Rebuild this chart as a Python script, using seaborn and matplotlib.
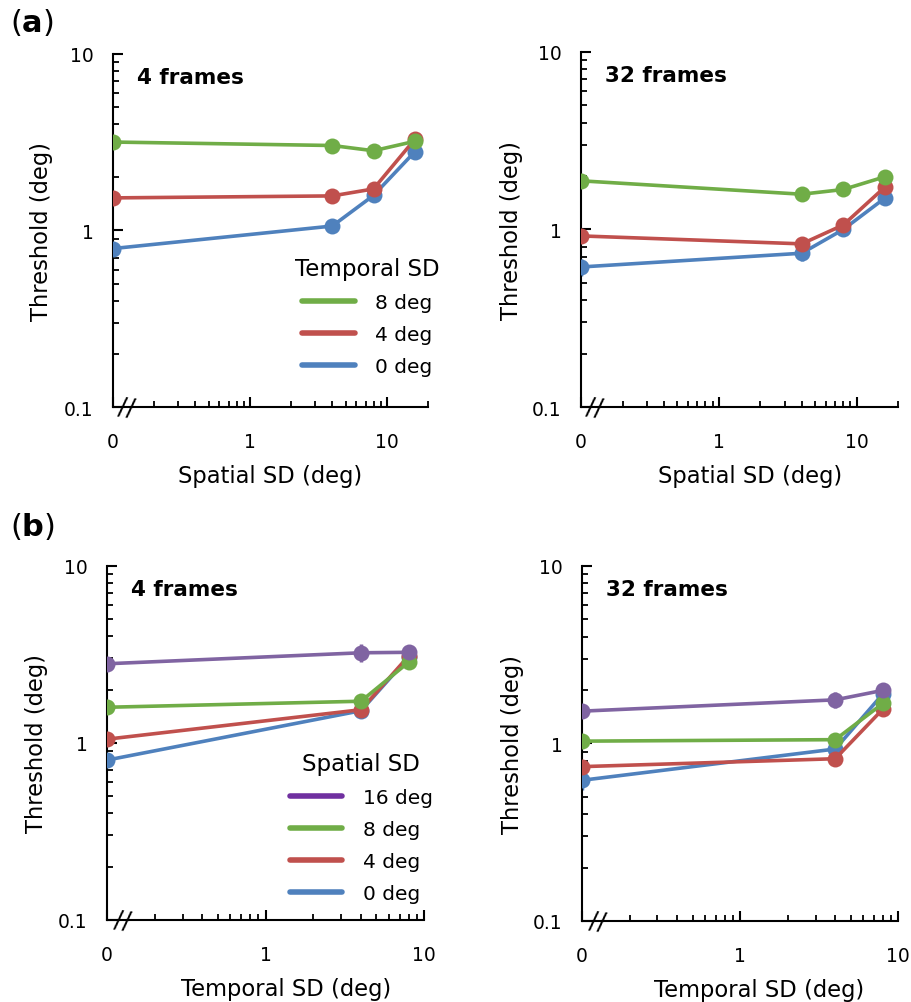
import numpy as np
import pandas as pd
import seaborn as sns
import matplotlib
matplotlib.use('Agg')
import matplotlib.pyplot as plt
from matplotlib.lines import Line2D

# ---- data (threshold in deg) ----
spatial_sd = [0, 4, 8, 16]
temporal_sd = [0, 4, 8]

# (a) threshold vs spatial SD, one line per temporal SD
a4_t8 = [3.17, 3.03, 2.83, 3.20]
a4_t4 = [1.53, 1.57, 1.72, 3.28]
a4_t0 = [0.79, 1.06, 1.58, 2.79]
a4_t8_err = [0.10, 0.10, 0.10, 0.15]
a4_t4_err = [0.05, 0.05, 0.08, 0.27]
a4_t0_err = [0.03, 0.04, 0.08, 0.15]

a32_t8 = [1.88, 1.58, 1.68, 1.98]
a32_t4 = [0.92, 0.83, 1.06, 1.73]
a32_t0 = [0.615, 0.735, 1.00, 1.50]
a32_t8_err = [0.08, 0.08, 0.08, 0.08]
a32_t4_err = [0.04, 0.05, 0.05, 0.08]
a32_t0_err = [0.065, 0.07, 0.05, 0.08]

# (b) threshold vs temporal SD, one line per spatial SD
b4_s16 = [2.80, 3.23, 3.25]
b4_s8 = [1.59, 1.72, 2.86]
b4_s4 = [1.05, 1.54, 3.10]
b4_s0 = [0.80, 1.52, 3.05]
b4_s16_err = [0.08, 0.38, 0.10]
b4_s8_err = [0.05, 0.08, 0.10]
b4_s4_err = [0.04, 0.08, 0.10]
b4_s0_err = [0.03, 0.08, 0.10]

b32_s16 = [1.52, 1.76, 1.99]
b32_s8 = [1.03, 1.05, 1.68]
b32_s4 = [0.74, 0.82, 1.56]
b32_s0 = [0.62, 0.93, 1.90]
b32_s16_err = [0.05, 0.18, 0.08]
b32_s8_err = [0.03, 0.05, 0.08]
b32_s4_err = [0.03, 0.04, 0.14]
b32_s0_err = [0.07, 0.05, 0.08]

level_names = ['0 deg', '4 deg', '8 deg', '16 deg']
line_colors = {'0 deg': '#4F81BD', '4 deg': '#C0504D', '8 deg': '#70AD47', '16 deg': '#8064A2'}
legend_colors = {'0 deg': '#4F81BD', '4 deg': '#C0504D', '8 deg': '#70AD47', '16 deg': '#7030A0'}

sns.set_style('ticks')
plt.rcParams['font.family'] = ['DejaVu Sans']
plt.rcParams['axes.linewidth'] = 1.5
plt.rcParams['axes.edgecolor'] = 'black'
plt.rcParams['text.color'] = 'black'
plt.rcParams['axes.labelcolor'] = 'black'
plt.rcParams['xtick.color'] = 'black'
plt.rcParams['ytick.color'] = 'black'
plt.rcParams['mathtext.fontset'] = 'dejavusans'

fig = plt.figure(figsize=(9.11, 10.03), dpi=100)
ax_tl = fig.add_axes([0.124, 0.5932, 0.3458, 0.352])
ax_tr = fig.add_axes([0.6378, 0.5932, 0.348, 0.354])
ax_bl = fig.add_axes([0.1175, 0.0818, 0.348, 0.353])
ax_br = fig.add_axes([0.6389, 0.0808, 0.347, 0.354])


def build_frame(xs, series):
  rows = {'x': [], 'y': [], 'err': [], 'name': []}
  for name, (ys, es) in series.items():
    for x, y, e in zip(xs, ys, es):
      rows['x'].append(0.1 if x == 0 else x)   # zero sits on the axis break
      rows['y'].append(y)
      rows['err'].append(e)
      rows['name'].append(name)
  return pd.DataFrame(rows)


def draw_panel(ax, xs, series, xmax, title, xlabel, xlab_x, ylab_x):
  df = build_frame(xs, series)
  order = [n for n in level_names if n in series]
  for name in order:
    sub = df[df['name'] == name]
    ax.errorbar(sub['x'], sub['y'], yerr=sub['err'], fmt='none',
                ecolor=line_colors[name], elinewidth=2.5, capsize=0, zorder=2)
  sns.lineplot(data=df, x='x', y='y', hue='name', hue_order=order,
               palette=line_colors, marker='o', markersize=11.5,
               markeredgewidth=0, linewidth=2.6, sort=False,
               legend=False, ax=ax, zorder=3)
  ax.set_xscale('log')
  ax.set_yscale('log')
  ax.set_xlim(0.1, xmax)
  ax.set_ylim(0.1, 10)
  ax.set_xticks([0.1, 1, 10])
  ax.set_xticklabels(['0', '1', '10'])
  minor = [0.2, 0.3, 0.4, 0.5, 0.6, 0.7, 0.8, 0.9, 2, 3, 4, 5, 6, 7, 8, 9]
  xminor = minor + [20] if xmax > 10 else minor
  ax.set_xticks(xminor, minor=True)
  ax.set_xticklabels([], minor=True)
  ax.set_yticks([0.1, 1, 10])
  ax.set_yticklabels(['0.1', '1', '10'])
  ax.set_yticks(minor, minor=True)
  ax.set_yticklabels([], minor=True)
  ax.tick_params(axis='both', which='both', bottom=True, left=True,
                 top=False, right=False)
  ax.tick_params(axis='both', which='major', direction='in', length=7,
                 width=1.5, labelsize=13.5, colors='black')
  ax.tick_params(axis='both', which='minor', direction='in', length=4.5,
                 width=1.3, colors='black')
  ax.tick_params(axis='x', which='major', pad=18)
  ax.tick_params(axis='y', which='major', pad=14)
  for side in ['top', 'right']:
    ax.spines[side].set_visible(False)
  ax.set_xlabel(xlabel, fontsize=16.3)
  ax.set_ylabel('Threshold (deg)', fontsize=16.3)
  ax.xaxis.set_label_coords(xlab_x, -0.16)
  ax.yaxis.set_label_coords(ylab_x, 0.5)
  ax.text(0.075, 0.935, title, transform=ax.transAxes, fontsize=15.5,
          fontweight='bold', va='center', ha='left')
  # axis break mark
  ax.text(0.125, 0.0, '//', transform=ax.get_xaxis_transform(),
          fontsize=18, ha='center', va='center', clip_on=False, zorder=5,
          rotation=-8)


def add_legend(ax, title, names, anchor):
  handles = [Line2D([0], [0], color=legend_colors[n], lw=4) for n in names]
  leg = ax.legend(handles, names, title=title, loc='upper left',
                  bbox_to_anchor=anchor, frameon=False, fontsize=14.5,
                  title_fontsize=16.5, handlelength=2.6, handletextpad=1.0,
                  labelspacing=0.64, alignment='center')
  return leg


draw_panel(ax_tl, spatial_sd,
           {'0 deg': (a4_t0, a4_t0_err), '4 deg': (a4_t4, a4_t4_err), '8 deg': (a4_t8, a4_t8_err)},
           20, '4 frames', 'Spatial SD (deg)', 0.498, -0.19)
draw_panel(ax_tr, spatial_sd,
           {'0 deg': (a32_t0, a32_t0_err), '4 deg': (a32_t4, a32_t4_err), '8 deg': (a32_t8, a32_t8_err)},
           20, '32 frames', 'Spatial SD (deg)', 0.533, -0.183)
draw_panel(ax_bl, temporal_sd,
           {'0 deg': (b4_s0, b4_s0_err), '4 deg': (b4_s4, b4_s4_err),
            '8 deg': (b4_s8, b4_s8_err), '16 deg': (b4_s16, b4_s16_err)},
           10, '4 frames', 'Temporal SD (deg)', 0.565, -0.186)
draw_panel(ax_br, temporal_sd,
           {'0 deg': (b32_s0, b32_s0_err), '4 deg': (b32_s4, b32_s4_err),
            '8 deg': (b32_s8, b32_s8_err), '16 deg': (b32_s16, b32_s16_err)},
           10, '32 frames', 'Temporal SD (deg)', 0.56, -0.183)

add_legend(ax_tl, 'Temporal SD', ['8 deg', '4 deg', '0 deg'], (0.52, 0.475))
add_legend(ax_bl, 'Spatial SD', ['16 deg', '8 deg', '4 deg', '0 deg'], (0.52, 0.525))

fig.text(0.011, 0.978, r'($\mathbf{a}$)', fontsize=22, va='center', ha='left')
fig.text(0.011, 0.475, r'($\mathbf{b}$)', fontsize=22, va='center', ha='left')

fig.savefig('out.png', dpi=100)
